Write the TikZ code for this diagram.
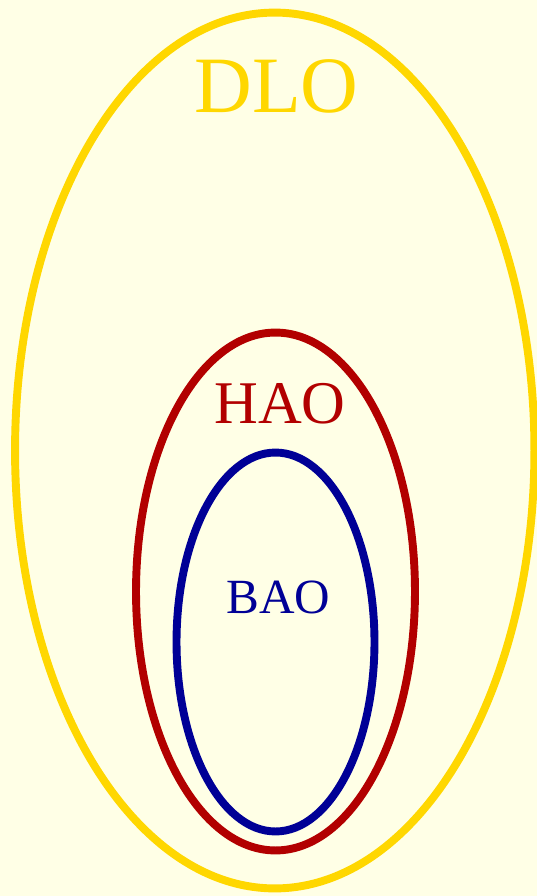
\documentclass[tikz,border=0pt]{standalone}
\usepackage{fontspec}
\setmainfont{Liberation Serif}
\usepackage{tikz}
\usetikzlibrary{shapes.geometric, positioning}
\definecolor{paper}{RGB}{255,255,230}
\definecolor{dlogold}{RGB}{255,215,0}
\definecolor{haored}{RGB}{178,0,0}
\definecolor{baoblue}{RGB}{0,0,150}
\tikzset{
  ring/.style={ellipse, draw=#1, line width=4.5pt, inner sep=0pt, outer sep=0pt},
  tag/.style={anchor=base, inner sep=0pt, text=#1},
}

\begin{document}
\begin{tikzpicture}[x=0.02cm, y=-0.02cm]
  \fill[paper] (0,0) rectangle (537,896);
  \useasboundingbox (0,0) rectangle (537,896);

  \node[ring=dlogold, minimum width=10.39cm, minimum height=17.52cm] (dlo) at (274.75,450.5) {};
  \node[ring=haored, minimum width=5.58cm, minimum height=10.36cm]  (hao) at (275.5,591.5) {};
  \node[ring=baoblue, minimum width=3.96cm, minimum height=7.58cm]  (bao) at (275.5,642) {};

  \node[tag=dlogold, font=\fontsize{45.5}{50}\selectfont] (dlolabel) at (276.5,112) {DLO};
  \node[tag=haored, font=\fontsize{34.5}{38}\selectfont] (haolabel) at (280,423) {HAO};
  \node[tag=baoblue, font=\fontsize{28}{32}\selectfont] (baolabel) at (278.5,613) {BAO};
\end{tikzpicture}
\end{document}
